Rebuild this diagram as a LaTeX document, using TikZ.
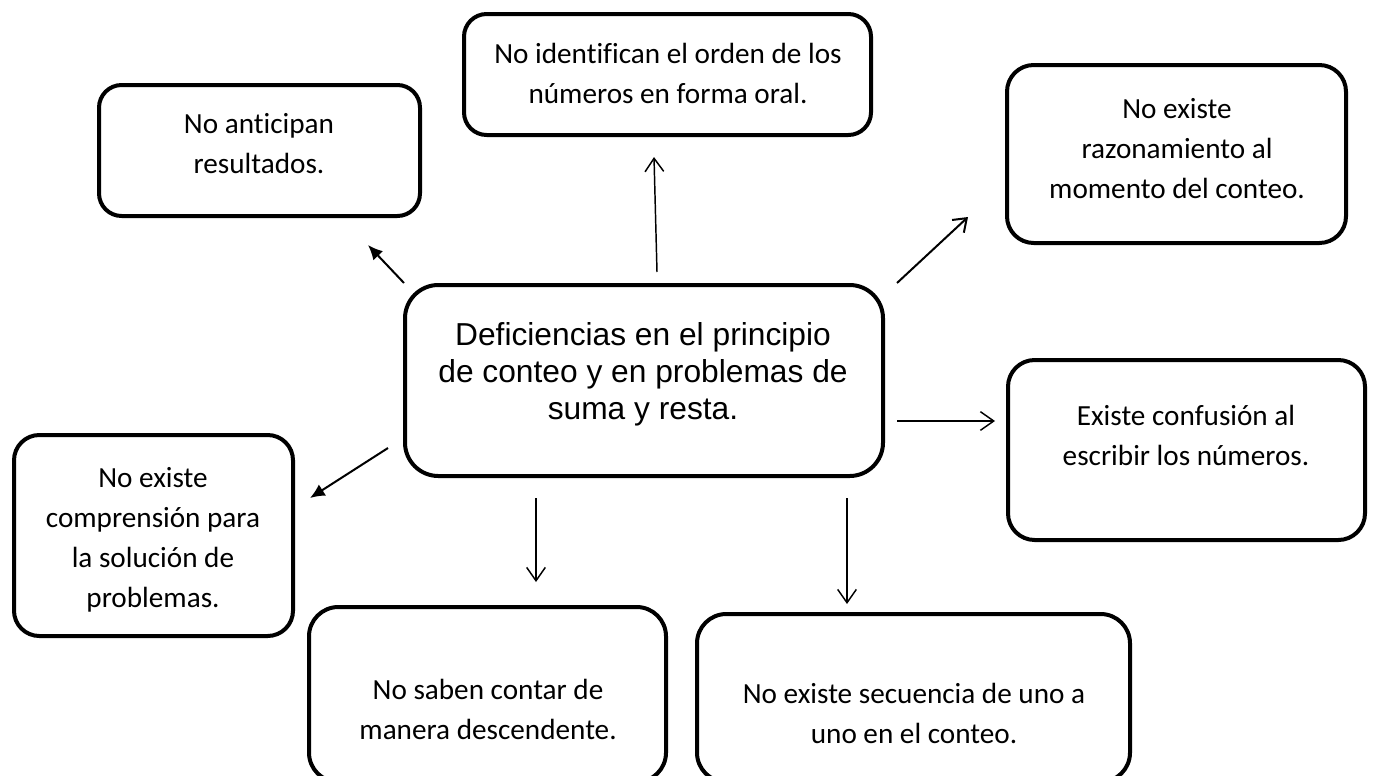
\documentclass[tikz,border=0pt]{standalone}
\usepackage{fontspec}
\setmainfont[Ligatures=NoCommon]{Carlito}
\newfontfamily\arialf[Ligatures=NoCommon]{Liberation Sans}
\usetikzlibrary{arrows.meta}
\newcommand\mybox[6]{\node[box, rounded corners=#6, minimum width={(#4-#2)*0.75pt}, minimum height={(#5-#3)*0.75pt}] (#1) at ({(#2+#4)/2},{(#3+#5)/2}) {};}
\newcommand\fst{\rule{0pt}{18pt}}
\begin{document}
\begin{tikzpicture}[x=0.75pt,y=-0.75pt,
  box/.style={draw=black, line width=3pt, inner sep=0pt, fill=none},
  txt/.style={inner sep=0pt, align=center, anchor=north, font=\fontsize{21.9}{30}\selectfont},
  ctxt/.style={inner sep=0pt, align=center, anchor=north, font=\arialf\fontsize{23.8}{27.8}\selectfont},
  arrF/.style={line width=1.5pt, -{Latex[length=11pt,width=10pt]}},
  arrO/.style={line width=1.1pt, -{Straight Barb[length=10pt,width=14pt,line width=1.1pt]}},
  arrOd/.style={line width=1.5pt, -{Straight Barb[length=9pt,width=13pt,line width=1.5pt]}}]
\useasboundingbox (0,0) rectangle (1374,775);
\clip (0,0) rectangle (1374,775);
% boxes
\mybox{c}{405}{285}{883}{476}{25pt}
\mybox{b1}{99}{85}{420}{216}{17pt}
\mybox{b2}{464}{14}{871}{135}{17pt}
\mybox{b3}{1007}{65}{1346}{243}{20pt}
\mybox{b4}{14}{435}{293}{636}{19pt}
\mybox{b5}{309}{607}{666}{782}{22pt}
\mybox{b6}{697}{614}{1130}{782}{22pt}
\mybox{b7}{1008}{360}{1365}{540}{20pt}
% texts
\node[ctxt] (tc) at (643,321) {\fst Deficiencias en el principio\\de conteo y en problemas de\\suma y resta.};
\node[txt] (t1) at (259,109) {\fst No anticipan\\resultados.};
\node[txt] (t2) at (668,39) {\fst No identifican el orden de los\\números en forma oral.};
\node[txt] (t3) at (1177,94) {\fst No existe\\razonamiento al\\momento del conteo.};
\node[txt] (t4) at (153,463) {\fst No existe\\comprensión para\\la solución de\\problemas.};
\node[txt] (t5) at (488,675) {\fst No saben contar de\\manera descendente.};
\node[txt] (t6) at (914,679) {\fst No existe secuencia de uno a\\uno en el conteo.};
\node[txt] (t7) at (1186,401) {\fst Existe confusión al\\escribir los números.};
% arrow ends
\coordinate (s1) at (404,283); \coordinate (e1) at (368,245);
\coordinate (s2) at (657,272); \coordinate (e2) at (654,157);
\coordinate (s3) at (897,283); \coordinate (e3) at (968,217);
\coordinate (s4) at (897,421); \coordinate (e4) at (995,421);
\coordinate (s5) at (388,448); \coordinate (e5) at (310,498);
\coordinate (s6) at (536,498); \coordinate (e6) at (536,582);
\coordinate (s7) at (847,498); \coordinate (e7) at (847,604);
\draw[arrF] (s1) -- (e1);
\draw[arrO] (s2) -- (e2);
\draw[arrOd] (s3) -- (e3);
\draw[arrO] (s4) -- (e4);
\draw[arrF] (s5) -- (e5);
\draw[arrO] (s6) -- (e6);
\draw[arrO] (s7) -- (e7);
\end{tikzpicture}
\end{document}
